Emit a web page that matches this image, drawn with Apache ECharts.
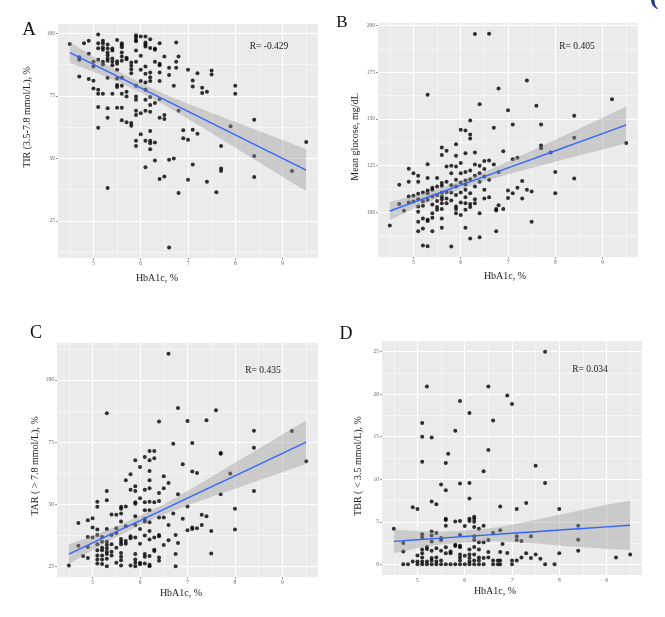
<!DOCTYPE html>
<html lang="en">
  <head>
    <meta charset="UTF-8" />
    <title>HbA1c vs CGM metrics</title>
    <script src="https://cdn.jsdelivr.net/npm/echarts@6.0.0/dist/echarts.min.js"></script>
    <style>
      html, body { margin: 0; padding: 0; background: #fff; }
      #main { width: 665px; height: 617px; }
    </style>
  </head>
  <body>
    <div id="main"></div>
    <script>
      // A: HbA1c (%) vs TIR (%)
      var tirPoints = [
        [4.5,95.7],[4.7,90.4],[4.7,89.4],[4.7,82.7],[4.8,96],[4.9,97],[4.9,91.8],[4.9,81.7],[5,88.6],[5,86.7],[5,81],[5,77.9],
        [5.1,99.5],[5.1,96],[5.1,94],[5.1,89.4],[5.1,77.4],[5.1,75.8],[5.1,70.5],[5.1,62.2],
        [5.2,97],[5.2,96],[5.2,94.4],[5.2,93.4],[5.2,88.6],[5.2,87.5],[5.2,75.8],
        [5.3,95.5],[5.3,93.9],[5.3,92.3],[5.3,91.2],[5.3,89.9],[5.3,89],[5.3,82.2],[5.3,70],[5.3,66.2],[5.3,38.2],
        [5.4,93.9],[5.4,93.1],[5.4,89.9],[5.4,88.6],[5.4,87.2],[5.4,75.8],
        [5.5,97.3],[5.5,88.8],[5.5,87.8],[5.5,85.4],[5.5,81.9],[5.5,79.3],[5.5,78.5],[5.5,70.2],
        [5.6,96],[5.6,95.2],[5.6,94.4],[5.6,92.3],[5.6,90.7],[5.6,89],[5.6,82.2],[5.6,79],[5.6,75.8],[5.6,70.2],[5.6,65.2],
        [5.7,90.2],[5.7,89.6],[5.7,76.6],[5.7,74.7],[5.7,64.4],
        [5.8,88.3],[5.8,87],[5.8,85.6],[5.8,84],[5.8,64.1],[5.8,63],
        [5.9,99.2],[5.9,98.4],[5.9,97.3],[5.9,96.8],[5.9,93.1],[5.9,88.6],[5.9,79],[5.9,74.7],[5.9,73.4],[5.9,69],[5.9,67.3],[5.9,57],[5.9,55],
        [6,98.7],[6,91],[6,85.4],[6,80.9],[6,68],[6,59.6],
        [6.1,98.7],[6.1,96.3],[6.1,95.5],[6.1,94.7],[6.1,86.7],[6.1,83.8],[6.1,80.3],[6.1,77.4],[6.1,73.4],[6.1,69],[6.1,57],[6.1,46.5],
        [6.2,97.6],[6.2,94.1],[6.2,84.3],[6.2,82.4],[6.2,80.9],[6.2,74.5],[6.2,71.3],[6.2,68.6],[6.2,60.9],[6.2,57],[6.2,56.1],[6.2,53.7],
        [6.3,93.9],[6.3,93.4],[6.3,88.6],[6.3,72.1],[6.3,56.4],[6.3,49.2],
        [6.4,96],[6.4,87.8],[6.4,87.2],[6.4,84.3],[6.4,80.9],[6.4,73.7],[6.4,66.2],[6.4,41.8],
        [6.5,90.7],[6.5,67.3],[6.5,65.7],[6.5,42.8],
        [6.6,86.2],[6.6,83.3],[6.6,49.5],[6.6,14.4],
        [6.7,79],[6.7,50],[6.75,96.3],[6.75,88.6],[6.75,86.2],
        [6.8,90.7],[6.8,69],[6.8,36.2],[6.9,61.2],[6.9,58],
        [7,85.4],[7,57.4],[7,41.5],[7.1,81.1],[7.1,78.7],[7.1,61.4],[7.1,47.6],
        [7.2,84],[7.2,59.8],[7.3,78.2],[7.3,76.1],[7.4,76.6],[7.4,40.7],
        [7.5,85.1],[7.5,83.5],[7.6,36.5],[7.7,55],[7.7,46],[7.7,45],
        [7.9,62.8],[8,79],[8,75.8],[8.4,65.4],[8.4,51],[8.4,42.6],[9.2,45],[9.5,56.6]
      ];

      // B: HbA1c (%) vs mean glucose (mg/dL)
      var glucosePoints = [
        [4.5,93],[4.7,114.8],[4.7,104.5],[4.8,100.9],
        [4.9,123.4],[4.9,116.4],[4.9,108.6],[4.9,105.3],[5,121],[5,105.9],[5,109],
        [5.1,119.6],[5.1,116.4],[5.1,110],[5.1,107.1],[5.1,103.2],[5.1,100.4],[5.1,95],[5.1,90],
        [5.2,110.7],[5.2,106],[5.2,103.6],[5.2,96.8],[5.2,91.4],[5.2,82.4],
        [5.3,162.9],[5.3,125.8],[5.3,118.5],[5.3,111.8],[5.3,110.3],[5.3,106.8],[5.3,96.1],[5.3,95.4],[5.3,82],
        [5.4,113.2],[5.4,112.1],[5.4,108.6],[5.4,104.3],[5.4,99.6],[5.4,97.2],[5.4,90],
        [5.5,118.4],[5.5,113.9],[5.5,109.3],[5.5,106.1],[5.5,102.9],[5.5,101.4],
        [5.6,134.8],[5.6,130.7],[5.6,115.7],[5.6,114.3],[5.6,110.7],[5.6,108.6],[5.6,107.1],[5.6,105],[5.6,101.8],[5.6,96.8],[5.6,91.8],
        [5.7,133],[5.7,124.6],[5.7,116.4],[5.7,111],[5.7,107.5],[5.7,105],
        [5.8,125],[5.8,121],[5.8,114.6],[5.8,110.7],[5.8,106.4],[5.8,81.8],
        [5.9,136.5],[5.9,130.3],[5.9,124.6],[5.9,117.5],[5.9,113.9],[5.9,109.3],[5.9,103.2],[5.9,101.8],[5.9,99.6],
        [6,144.2],[6,126.4],[6,121],[6,116],[6,110.7],[6,105.3],[6,98.6],
        [6.1,143.8],[6.1,131.7],[6.1,121.7],[6.1,117.1],[6.1,115],[6.1,112.1],[6.1,108.2],[6.1,105],[6.1,101.4],[6.1,91.8],
        [6.2,149.2],[6.2,141.7],[6.2,139.6],[6.2,122.5],[6.2,117.8],[6.2,110.3],[6.2,104.6],[6.2,102.9],[6.2,86.1],
        [6.3,195.4],[6.3,132.1],[6.3,125.7],[6.3,119.6],[6.3,113.9],[6.3,107.1],[6.3,105],
        [6.4,157.8],[6.4,125],[6.4,121],[6.4,116.4],[6.4,99.6],[6.4,86.8],
        [6.5,127.5],[6.5,123.2],[6.5,119.3],[6.5,112.1],[6.5,107.5],
        [6.6,195.5],[6.6,127.8],[6.6,117.5],[6.6,108.2],[6.7,145.3],[6.7,125.7],
        [6.75,101.8],[6.75,101],[6.75,90],[6.8,166.3],[6.8,121.7],[6.8,103.9],[6.9,132.8],[6.9,101.8],
        [7,154.6],[7,111.8],[7,107.8],[7.1,147.1],[7.1,128.5],[7.1,110.3],[7.2,129.2],[7.2,113.2],
        [7.3,116.8],[7.3,107.5],[7.4,170.6],[7.4,112.1],[7.5,111.2],[7.5,95],[7.6,157],
        [7.7,147.1],[7.7,135.8],[7.7,134.4],[7.9,132.1],[8,121.7],[8,110.3],
        [8.4,151.7],[8.4,139.9],[8.4,118.2],[9.2,160.6],[9.5,137.1]
      ];

      // C: HbA1c (%) vs TAR (%)
      var tarPoints = [
        [4.5,25.4],[4.7,42.5],[4.7,33.4],[4.8,29.2],[4.9,43.6],[4.9,36.9],[4.9,32.9],[4.9,28.4],[5,44.4],[5,40.7],[5,36.7],
        [5.1,51.1],[5.1,49],[5.1,39.9],[5.1,37.7],[5.1,34],[5.1,31.6],[5.1,29.4],[5.1,27.8],[5.1,26.2],
        [5.2,36.9],[5.2,35],[5.2,32.6],[5.2,31.6],[5.2,29.4],[5.2,27.8],[5.2,26],
        [5.3,86.7],[5.3,55.4],[5.3,51.7],[5.3,40.1],[5.3,35],[5.3,33.7],[5.3,32.4],[5.3,31],[5.3,30],[5.3,28.1],[5.3,25.1],
        [5.4,45.9],[5.4,37.7],[5.4,34],[5.4,31],[5.4,29.4],[5.5,45.8],[5.5,40.4],[5.5,38.5],[5.5,32.6],[5.5,26.5],
        [5.6,49],[5.6,48.2],[5.6,46.3],[5.6,43.1],[5.6,36.1],[5.6,35],[5.6,34],[5.6,30.5],[5.6,28.9],[5.6,27.5],[5.6,25.4],
        [5.7,59.7],[5.7,49.2],[5.7,41.2],[5.7,35.3],[5.7,34.2],[5.8,62.1],[5.8,55.9],[5.8,37.2],[5.8,36.4],[5.8,25.4],
        [5.9,67.7],[5.9,57.3],[5.9,55.4],[5.9,50.9],[5.9,50.3],[5.9,45.2],[5.9,41.7],[5.9,36.7],[5.9,30],[5.9,27.8],[5.9,26.5],[5.9,25.1],
        [6,65],[6,52.5],[6,40.1],[6,34.2],[6,26.5],[6,25.9],
        [6.1,69.1],[6.1,55.9],[6.1,50.9],[6.1,47.6],[6.1,44.2],[6.1,43.1],[6.1,37.5],[6.1,30],[6.1,28.9],[6.1,26.2],
        [6.2,71.5],[6.2,67.7],[6.2,63.4],[6.2,59.7],[6.2,56.5],[6.2,51.1],[6.2,47.6],[6.2,42.8],[6.2,39.3],[6.2,35.9],[6.2,29.2],[6.2,25.7],[6.2,25.1],
        [6.3,71.5],[6.3,68.6],[6.3,50.9],[6.3,36.7],[6.3,31.8],[6.3,31.3],
        [6.4,83.3],[6.4,54.6],[6.4,51.4],[6.4,44.7],[6.4,37.7],[6.4,37.2],[6.4,28.6],[6.4,27.3],
        [6.5,61.3],[6.5,56.5],[6.5,44.7],[6.5,33.7],[6.6,110.6],[6.6,58.6],[6.6,41.7],[6.6,35.6],
        [6.7,74.4],[6.7,46.3],[6.75,37.7],[6.75,30],[6.75,25.1],[6.8,88.8],[6.8,54.1],[6.8,34.5],[6.9,66.1],[6.9,44.2],
        [7,83.5],[7,49.2],[7,39.6],[7.1,74.7],[7.1,63.2],[7.1,40.7],[7.1,40.1],[7.2,62.6],[7.2,40.4],
        [7.3,45.8],[7.3,41.7],[7.4,83.8],[7.4,45.2],[7.5,39.3],[7.5,30.2],[7.6,87.9],
        [7.7,70.7],[7.7,70.4],[7.7,54.1],[7.9,62.4],[8,48.2],[8,39.9],
        [8.4,79.6],[8.4,72.8],[8.4,55.4],[9.2,79.5],[9.5,67.3]
      ];

      // D: HbA1c (%) vs TBR (%)
      var tbrPoints = [
        [4.5,4.2],[4.7,2.5],[4.7,1.5],[4.7,0],[4.8,0],[4.9,6.7],[4.9,0.35],[5,6.5],[5,1.05],[5,0.35],[5,0],
        [5.1,16.6],[5.1,15],[5.1,12.05],[5.1,3.55],[5.1,3.15],[5.1,1.75],[5.1,1.3],[5.1,0.8],[5.1,0.35],[5.1,0],
        [5.2,20.9],[5.2,2.05],[5.2,1.8],[5.2,0.35],[5.2,0],
        [5.3,14.9],[5.3,7.4],[5.3,3.85],[5.3,3.4],[5.3,2.7],[5.3,1.6],[5.3,0.75],[5.3,0.45],[5.3,0],
        [5.4,7.05],[5.4,3.7],[5.4,1.9],[5.4,0.8],[5.4,0.35],[5.4,0],
        [5.5,9.4],[5.5,3.1],[5.5,2.85],[5.5,1.6],[5.5,0.45],[5.5,0],
        [5.6,11.9],[5.6,8.7],[5.6,5.35],[5.6,5.2],[5.6,4.55],[5.6,2],[5.6,1.3],[5.6,0],
        [5.65,13],[5.7,1.5],[5.7,1.3],[5.7,0],[5.8,15.7],[5.8,5.05],[5.8,2.3],[5.8,2.15],[5.8,0],
        [5.9,19.2],[5.9,9.5],[5.9,5.1],[5.9,3.45],[5.9,2.2],[5.9,2],[5.9,1.15],[5.9,0.8],[5.9,0.45],[5.9,0],
        [6,4.5],[6,1],[6,0],
        [6.1,17.8],[6.1,9.55],[6.1,7.75],[6.1,5.35],[6.1,5.1],[6.1,1.75],[6.1,1.15],[6.1,0.75],[6.1,0.35],[6.1,0],
        [6.2,5.6],[6.2,5.35],[6.2,5],[6.2,4.4],[6.2,3.3],[6.2,2.85],[6.2,2.05],[6.2,1.15],[6.2,0.45],[6.2,0],
        [6.3,4.2],[6.3,2.6],[6.3,1.75],[6.3,0.8],[6.3,0.45],[6.3,0],
        [6.4,10.95],[6.4,4.55],[6.4,2.6],[6.4,0.75],[6.4,0],
        [6.5,20.9],[6.5,13.45],[6.5,2.85],[6.5,1.45],[6.5,0.8],[6.6,16.9],[6.6,3.7],[6.6,0.45],[6.6,0],
        [6.7,0.45],[6.7,0],[6.75,6.8],[6.75,4],[6.75,1.45],[6.75,0.45],[6.75,0],[6.8,2.4],
        [6.9,19.85],[6.9,1.35],[7,18.85],[7,0.45],[7,0],[7.1,6.5],[7.1,3.3],[7.1,2.85],[7.1,0.45],
        [7.2,2.75],[7.2,0.8],[7.3,7.2],[7.3,1.3],[7.4,3.3],[7.4,0.75],[7.5,11.6],[7.5,1.15],[7.6,0.65],
        [7.7,25],[7.7,9.55],[7.7,0],[7.9,0],[8,6.5],[8,1.3],[8.4,4.55],[8.4,2.9],[8.4,1.6],[9.2,0.8],[9.5,1.15]
      ];

      // linear fit + 95% band
      var fitX = [4.5, 5, 5.5, 6, 6.5, 7, 7.5, 8, 8.5, 9, 9.5];
      var tirFit  = [92.3, 87.6, 82.9, 78.2, 73.5, 68.8, 64.1, 59.4, 54.7, 50.0, 45.3];
      var tirLow  = [88.1, 84.6, 80.7, 76.3, 71.3, 65.8, 60.1, 54.3, 48.5, 42.7, 36.9];
      var tirHigh = [96.5, 90.6, 85.1, 80.1, 75.7, 71.8, 68.1, 64.5, 60.9, 57.3, 53.7];
      var gluFit  = [100.8, 105.4, 110.0, 114.6, 119.2, 123.8, 128.4, 133.0, 137.6, 142.2, 146.8];
      var gluLow  = [96.0, 102.0, 107.5, 112.4, 116.7, 120.4, 123.8, 127.1, 130.4, 133.7, 137.0];
      var gluHigh = [105.6, 108.8, 112.5, 116.8, 121.7, 127.2, 133.0, 138.9, 144.8, 150.7, 156.6];
      var tarFit  = [30, 34.5, 39, 43.5, 48, 52.5, 57, 61.5, 66, 70.5, 75];
      var tarLow  = [26.0, 31.6, 36.9, 41.6, 45.9, 49.6, 53.0, 56.3, 59.6, 62.9, 66.2];
      var tarHigh = [34.0, 37.4, 41.1, 45.4, 50.1, 55.4, 61.0, 66.7, 72.4, 78.1, 83.8];
      var tbrFit  = [2.7, 2.89, 3.08, 3.27, 3.46, 3.65, 3.84, 4.03, 4.22, 4.41, 4.6];
      var tbrLow  = [1.3, 1.89, 2.33, 2.57, 2.71, 2.65, 2.44, 2.23, 2.02, 1.81, 1.7];
      var tbrHigh = [4.1, 3.89, 3.83, 3.97, 4.21, 4.65, 5.24, 5.83, 6.42, 7.01, 7.5];

      // ticks / grid lines
      var xMajor = [5, 6, 7, 8, 9];
      var xMinor = [4.5, 5.5, 6.5, 7.5, 8.5, 9.5];
      var tirTicks = [25, 50, 75, 100], tirMinor = [12.5, 37.5, 62.5, 87.5];
      var gluTicks = [100, 125, 150, 175, 200], gluMinor = [87.5, 112.5, 137.5, 162.5, 187.5];
      var tarTicks = [25, 50, 75, 100], tarMinor = [37.5, 62.5, 87.5, 112.5];
      var tbrTicks = [0, 5, 10, 15, 20, 25], tbrMinor = [2.5, 7.5, 12.5, 17.5, 22.5];

      var serif = "'Liberation Serif', 'DejaVu Serif', serif";

      var panels = [
        { letter: "A", r: "R= -0.429", yName: "TIR (3.5-7.8 mmol/L), %",
          pts: tirPoints, fit: tirFit, low: tirLow, high: tirHigh, yTicks: tirTicks, yMinor: tirMinor,
          yMin: 10.2, yMax: 103.7, grid: { left: 58, top: 24, width: 260, height: 234 },
          letterPos: [29, 30, 19], rPos: [269, 46.5], xTitle: [157, 278], yTitle: [27, 117] },
        { letter: "B", r: "R= 0.405", yName: "Mean glucose, mg/dL",
          pts: glucosePoints, fit: gluFit, low: gluLow, high: gluHigh, yTicks: gluTicks, yMinor: gluMinor,
          yMin: 76.2, yMax: 201.3, grid: { left: 378, top: 23, width: 260, height: 234 },
          letterPos: [342, 23, 17], rPos: [577, 46], xTitle: [505, 276], yTitle: [355, 137] },
        { letter: "C", r: "R= 0.435", yName: "TAR ( > 7.8 mmol/L), %",
          pts: tarPoints, fit: tarFit, low: tarLow, high: tarHigh, yTicks: tarTicks, yMinor: tarMinor,
          yMin: 20.8, yMax: 114.9, grid: { left: 57, top: 343, width: 261, height: 234 },
          letterPos: [36, 333, 18], rPos: [263, 370.5], xTitle: [181, 593], yTitle: [35, 466] },
        { letter: "D", r: "R= 0.034", yName: "TBR ( < 3.5 mmol/L), %",
          pts: tbrPoints, fit: tbrFit, low: tbrLow, high: tbrHigh, yTicks: tbrTicks, yMinor: tbrMinor,
          yMin: -1.25, yMax: 26.25, grid: { left: 382, top: 341, width: 260, height: 234 },
          letterPos: [346, 334, 18], rPos: [590, 369], xTitle: [495, 591], yTitle: [358, 466] }
      ];

      function gridLines(axis, major, minor) {
        var out = [];
        minor.forEach(function (v) {
          var d = {}; d[axis] = v;
          d.lineStyle = { color: "#fff", width: 0.5, type: "solid" };
          out.push(d);
        });
        major.forEach(function (v) {
          var d = {}; d[axis] = v;
          d.lineStyle = { color: "#fff", width: 1, type: "solid" };
          out.push(d);
        });
        return out;
      }

      var grids = [], xAxes = [], yAxes = [], series = [], graphics = [];

      panels.forEach(function (p, i) {
        grids.push(Object.assign({ show: true, backgroundColor: "#EBEBEB", borderWidth: 0 }, p.grid));

        xAxes.push({
          type: "value", gridIndex: i, min: 4.25, max: 9.75,
          axisLine: { show: false },
          axisTick: { show: true, length: 2, customValues: xMajor, lineStyle: { color: "#555", width: 0.6 } },
          axisLabel: { customValues: xMajor, fontSize: 5.5, color: "#666", fontFamily: serif, margin: 3 },
          splitLine: { show: false }
        });
        yAxes.push({
          type: "value", gridIndex: i, min: p.yMin, max: p.yMax,
          axisLine: { show: false },
          axisTick: { show: true, length: 2, customValues: p.yTicks, lineStyle: { color: "#555", width: 0.6 } },
          axisLabel: { customValues: p.yTicks, fontSize: 5.5, color: "#666", fontFamily: serif, margin: 3 },
          splitLine: { show: false }
        });

        // white grid lines
        series.push({
          type: "line", xAxisIndex: i, yAxisIndex: i, data: [], silent: true, z: 1,
          markLine: {
            silent: true, symbol: "none", z: 1, animation: false,
            label: { show: false },
            data: gridLines("xAxis", xMajor, xMinor).concat(gridLines("yAxis", p.yTicks, p.yMinor))
          }
        });

        series.push({
          type: "scatter", xAxisIndex: i, yAxisIndex: i, data: p.pts,
          symbolSize: 4, itemStyle: { color: "#000" }, z: 2
        });

        series.push({
          type: "custom", xAxisIndex: i, yAxisIndex: i, z: 3, silent: true,
          data: [[fitX[0], p.fit[0]]],
          renderItem: function (params, api) {
            var poly = [];
            for (var k = 0; k < fitX.length; k++) poly.push(api.coord([fitX[k], p.high[k]]));
            for (var k2 = fitX.length - 1; k2 >= 0; k2--) poly.push(api.coord([fitX[k2], p.low[k2]]));
            return { type: "polygon", shape: { points: poly }, style: { fill: "rgba(153,153,153,0.4)" } };
          }
        });

        series.push({
          type: "line", xAxisIndex: i, yAxisIndex: i, z: 4, silent: true,
          data: fitX.map(function (x, k) { return [x, p.fit[k]]; }),
          symbol: "none", lineStyle: { color: "#3366FF", width: 1.4 }
        });

        graphics.push(
          { type: "text", x: p.letterPos[0], y: p.letterPos[1],
            style: { text: p.letter, fontSize: p.letterPos[2], fontFamily: serif, fill: "#111", align: "center", verticalAlign: "middle" } },
          { type: "text", x: p.rPos[0], y: p.rPos[1], z: 10,
            style: { text: p.r, fontSize: 9.5, fontFamily: serif, fill: "#222", align: "center", verticalAlign: "middle" } },
          { type: "text", x: p.xTitle[0], y: p.xTitle[1],
            style: { text: "HbA1c, %", fontSize: 10, fontFamily: serif, fill: "#222", align: "center", verticalAlign: "middle" } },
          { type: "text", x: p.yTitle[0], y: p.yTitle[1], rotation: Math.PI / 2,
            style: { text: p.yName, fontSize: 10, fontFamily: serif, fill: "#222", align: "center", verticalAlign: "middle" } }
        );
      });

      // bit of a logo cut off at the top right corner
      graphics.push({ type: "text", x: 654, y: -3,
        style: { text: "(", fontSize: 26, fontWeight: "bold", fontFamily: serif, fill: "#1f3c88", align: "center", verticalAlign: "middle" } });

      var chart = echarts.init(document.getElementById("main"));
      chart.setOption({
        animation: false,
        grid: grids,
        xAxis: xAxes,
        yAxis: yAxes,
        series: series,
        graphic: { elements: graphics }
      });
    </script>
  </body>
</html>
